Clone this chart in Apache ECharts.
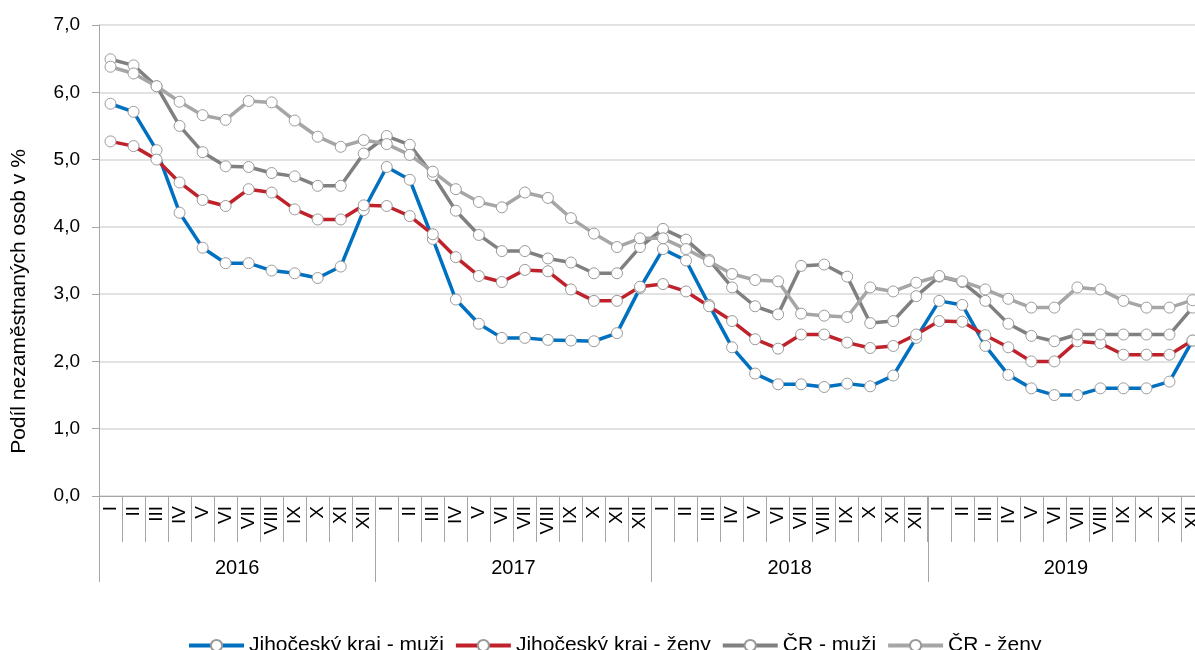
<!DOCTYPE html>
<html>
<head>
<meta charset="utf-8">
<script src="https://cdn.jsdelivr.net/npm/echarts@6/dist/echarts.min.js"></script>
<style>
  html, body { margin: 0; padding: 0; background: #fff; }
  #chart { width: 1195px; height: 650px; }
</style>
</head>
<body>
<div id="chart"></div>
<script>
// měsíce a roky na ose x
const months = ['I', 'II', 'III', 'IV', 'V', 'VI', 'VII', 'VIII', 'IX', 'X', 'XI', 'XII']
const years = ['2016', '2017', '2018', '2019']
const categories = years.flatMap(() => months)

// podíl nezaměstnaných osob v %
const jcMuzi = [
  5.83, 5.71, 5.14, 4.21, 3.69, 3.46, 3.46, 3.35, 3.31, 3.24, 3.41, 4.25,
  4.89, 4.70, 3.82, 2.92, 2.56, 2.35, 2.35, 2.32, 2.31, 2.30, 2.42, 3.09,
  3.67, 3.50, 2.84, 2.21, 1.82, 1.66, 1.66, 1.62, 1.67, 1.63, 1.79, 2.35,
  2.90, 2.84, 2.23, 1.80, 1.60, 1.50, 1.50, 1.60, 1.60, 1.60, 1.70, 2.31
]
const jcZeny = [
  5.27, 5.20, 5.00, 4.66, 4.40, 4.31, 4.56, 4.51, 4.26, 4.11, 4.11, 4.32,
  4.31, 4.16, 3.89, 3.55, 3.27, 3.18, 3.36, 3.34, 3.07, 2.90, 2.90, 3.11,
  3.15, 3.04, 2.82, 2.60, 2.33, 2.19, 2.40, 2.40, 2.28, 2.20, 2.23, 2.40,
  2.60, 2.59, 2.39, 2.21, 2.00, 2.00, 2.30, 2.27, 2.10, 2.10, 2.10, 2.31
]
const crMuzi = [
  6.49, 6.40, 6.09, 5.50, 5.11, 4.90, 4.89, 4.80, 4.75, 4.61, 4.61, 5.09,
  5.35, 5.22, 4.77, 4.24, 3.88, 3.64, 3.64, 3.53, 3.47, 3.31, 3.31, 3.70,
  3.97, 3.81, 3.51, 3.10, 2.82, 2.70, 3.42, 3.44, 3.26, 2.57, 2.60, 2.97,
  3.26, 3.18, 2.90, 2.56, 2.38, 2.30, 2.40, 2.40, 2.40, 2.40, 2.40, 2.80
]
const crZeny = [
  6.38, 6.28, 6.09, 5.86, 5.66, 5.59, 5.87, 5.85, 5.58, 5.34, 5.19, 5.29,
  5.23, 5.07, 4.82, 4.56, 4.37, 4.29, 4.51, 4.43, 4.13, 3.90, 3.70, 3.83,
  3.83, 3.67, 3.49, 3.30, 3.21, 3.19, 2.71, 2.68, 2.66, 3.10, 3.04, 3.17,
  3.27, 3.19, 3.07, 2.93, 2.80, 2.80, 3.10, 3.07, 2.90, 2.80, 2.80, 2.91
]

const seriesNames = ['Jihočeský kraj - muži', 'Jihočeský kraj - ženy', 'ČR - muži', 'ČR - ženy']
const seriesColors = ['#0070C0', '#C0222B', '#808080', '#A6A6A6']
const seriesData = [jcMuzi, jcZeny, crMuzi, crZeny]

const fontFamily = 'Liberation Sans, Arial, sans-serif'
const axisGray = '#A6A6A6'

const chart = echarts.init(document.getElementById('chart'))

const option = {
  animation: false,
  textStyle: { fontFamily: fontFamily, color: '#000' },
  grid: {
    left: 99,
    top: 25,
    width: 1105,
    height: 471,
    outerBoundsMode: 'none'
  },
  legend: {
    left: 182,
    top: 630,
    itemWidth: 55,
    itemHeight: 14,
    itemGap: 10,
    data: seriesNames,
    lineStyle: { width: 4 },
    textStyle: {
      fontFamily: fontFamily,
      fontSize: 21,
      color: '#000'
    }
  },
  xAxis: [
    {
      // měsíce
      type: 'category',
      data: categories,
      boundaryGap: true,
      axisLine: { lineStyle: { color: axisGray, width: 1 } },
      axisTick: { show: true, interval: 0, length: 46, lineStyle: { color: axisGray } },
      axisLabel: {
        interval: 0,
        rotate: 90,
        margin: 10,
        fontSize: 19,
        color: '#000',
        fontFamily: fontFamily
      },
      splitLine: { show: false }
    },
    {
      // roky
      type: 'category',
      data: years,
      position: 'bottom',
      offset: 0,
      boundaryGap: true,
      axisLine: { show: false },
      axisTick: { show: true, interval: 0, length: 86, lineStyle: { color: axisGray } },
      axisLabel: {
        interval: 0,
        margin: 62,
        fontSize: 20,
        color: '#000',
        fontFamily: fontFamily
      },
      splitLine: { show: false }
    }
  ],
  yAxis: {
    type: 'value',
    min: 0,
    max: 7,
    interval: 1,
    name: 'Podíl nezaměstnaných osob v %',
    nameLocation: 'middle',
    nameRotate: 90,
    nameGap: 69,
    nameTextStyle: {
      fontSize: 21,
      color: '#000',
      fontFamily: fontFamily,
      padding: [0, 82, 0, 0]
    },
    axisLine: { show: true, lineStyle: { color: axisGray, width: 1 } },
    axisTick: { show: true, length: 7, lineStyle: { color: axisGray } },
    axisLabel: {
      margin: 19,
      fontSize: 19,
      color: '#000',
      fontFamily: fontFamily,
      formatter: function (value) {
        return value.toFixed(1).replace('.', ',')
      }
    },
    splitLine: { show: true, lineStyle: { color: '#D9D9D9', width: 1.5 } }
  },
  series: seriesNames.map((name, i) => ({
    name: name,
    type: 'line',
    xAxisIndex: 0,
    data: seriesData[i],
    symbol: 'circle',
    symbolSize: 11,
    showAllSymbol: true,
    lineStyle: { color: seriesColors[i], width: 3.5 },
    itemStyle: { color: '#fff', borderColor: '#9A9A9A', borderWidth: 1 },
    emphasis: { disabled: true }
  }))
}

chart.setOption(option)
</script>
</body>
</html>
